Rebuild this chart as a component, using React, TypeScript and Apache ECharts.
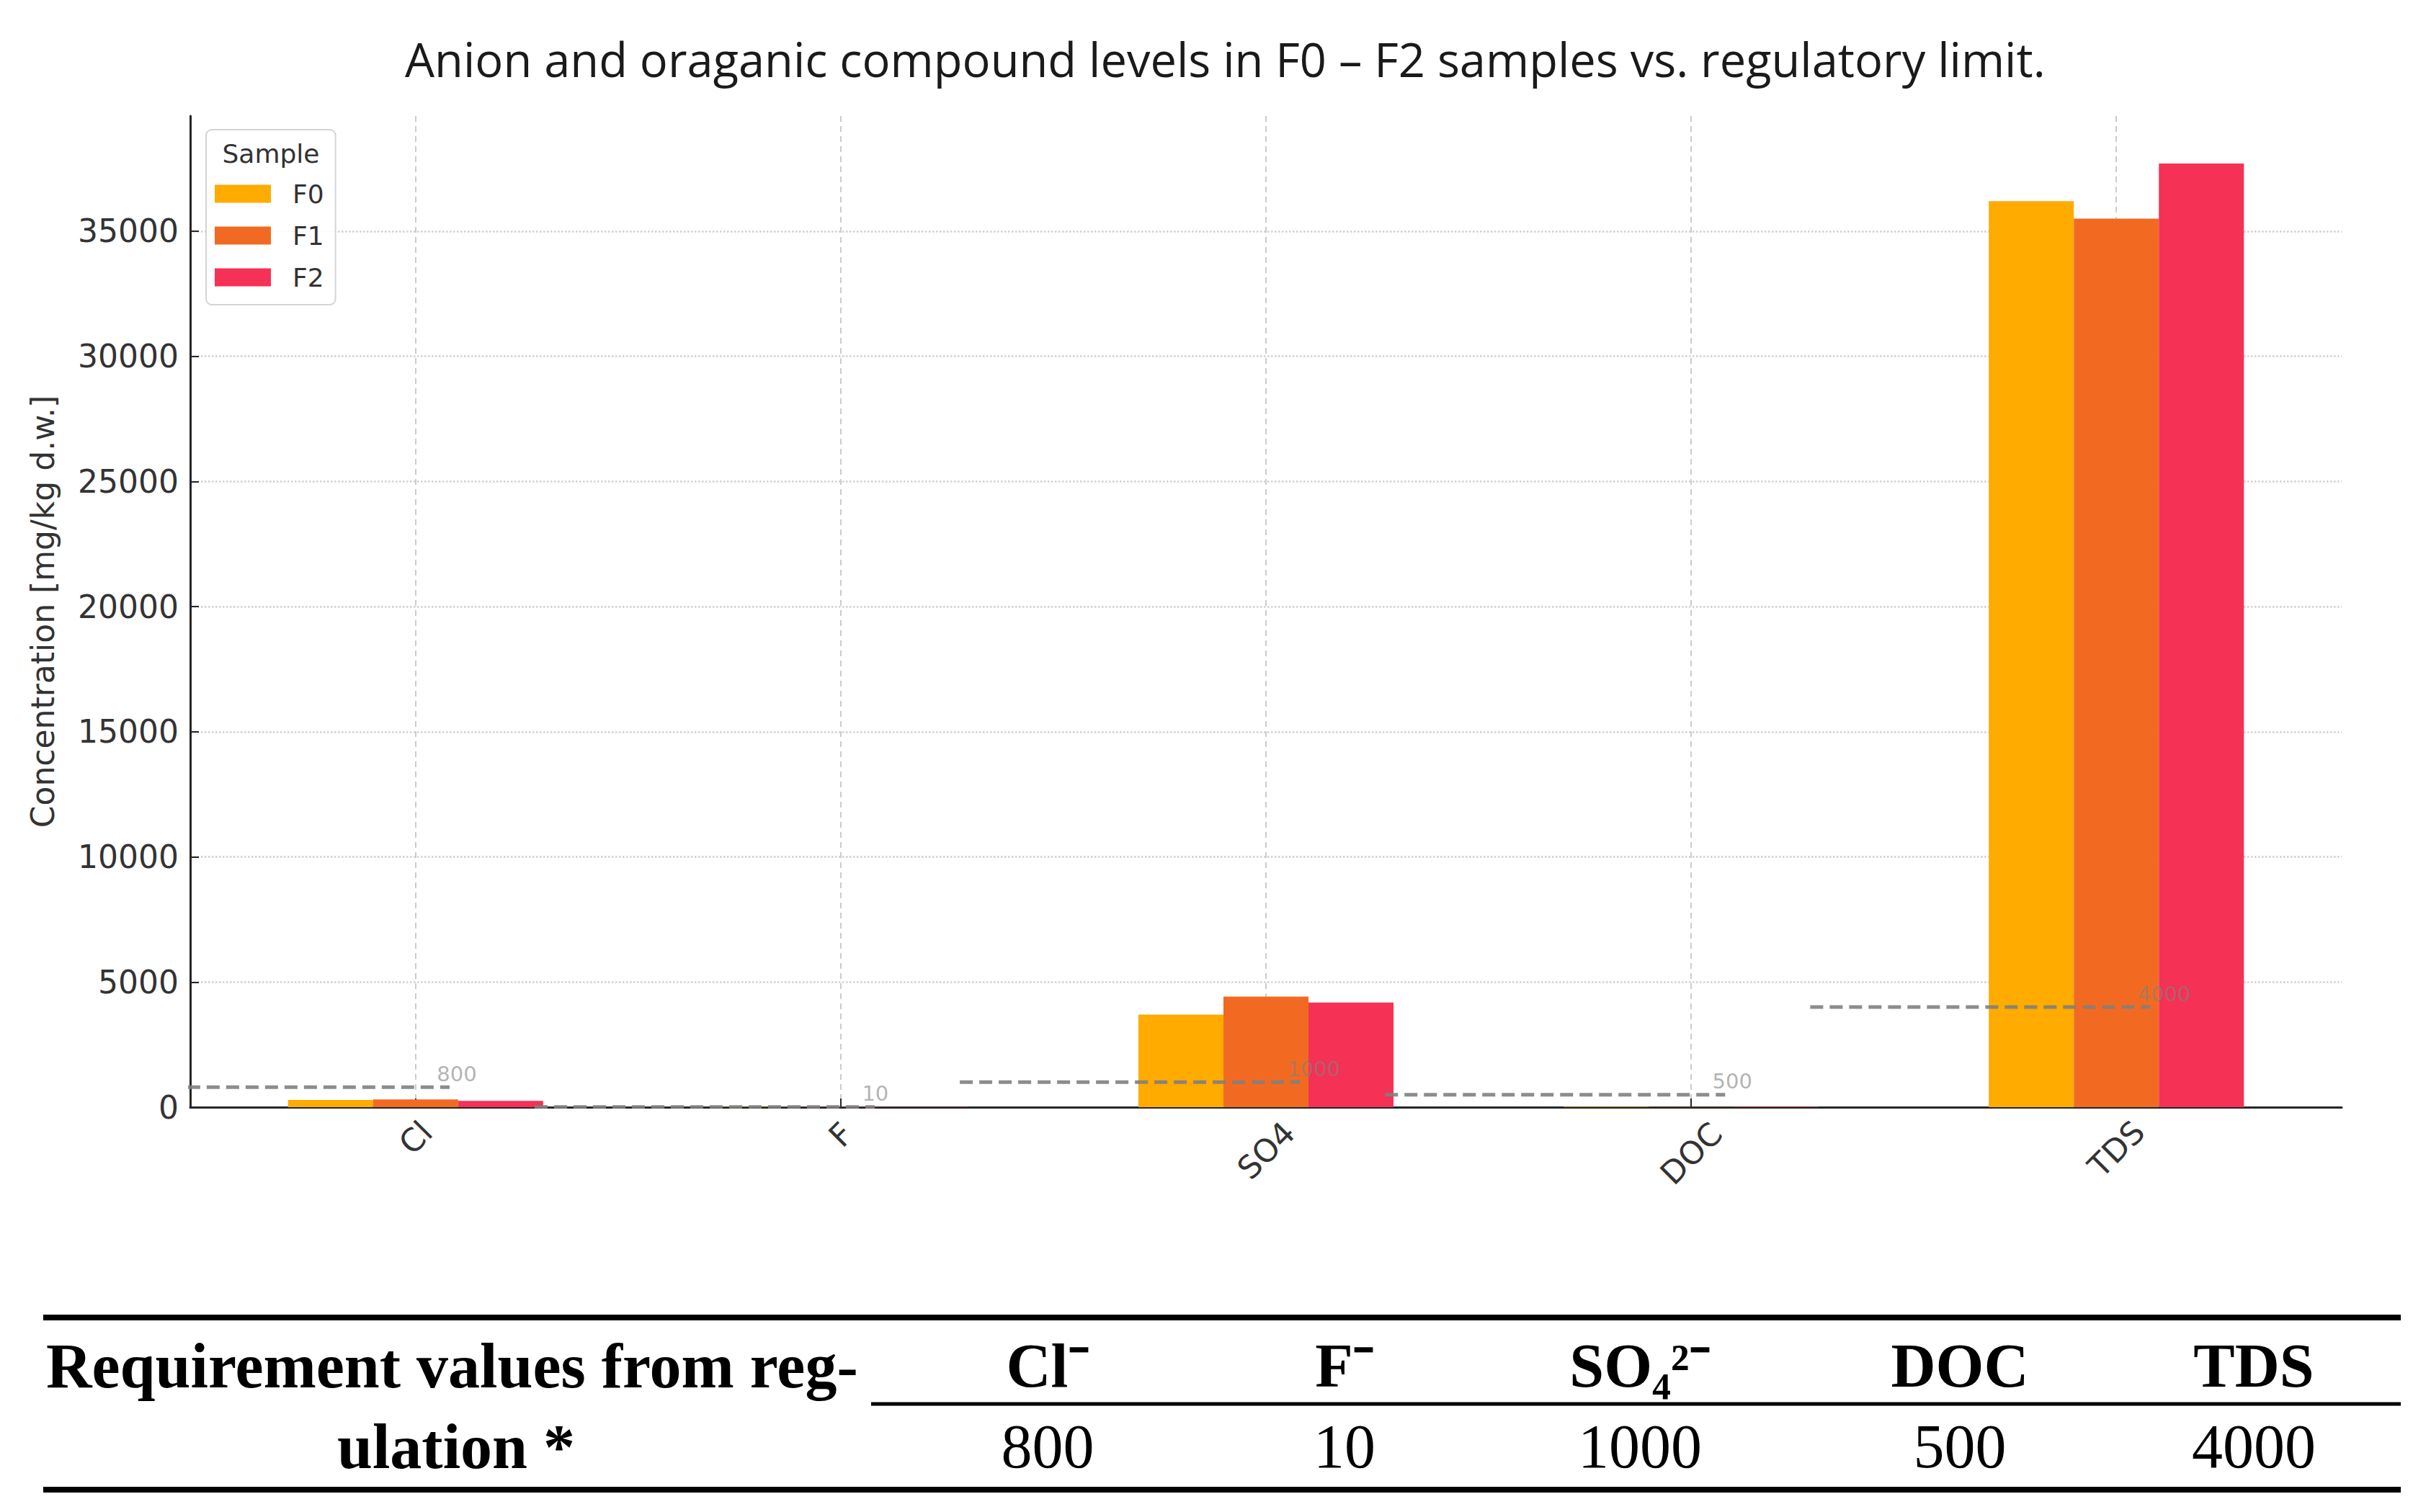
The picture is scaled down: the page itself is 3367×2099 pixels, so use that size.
import React, { useEffect, useRef } from "react";
import * as echarts from "echarts";

const categories = ["Cl", "F", "SO4", "DOC", "TDS"];
const sampleNames = ["F0", "F1", "F2"];
const f0Values = [290, 4.5, 3700, 12, 36200];
const f1Values = [310, 3.8, 4420, 9, 35500];
const f2Values = [250, 5.2, 4180, 15, 37700];
const limitValues = [800, 10, 1000, 500, 4000];
const yTickValues = [0, 5000, 10000, 15000, 20000, 25000, 30000, 35000];
const xTickValues = [0, 1, 2, 3, 4];
const tableHeaders = ["Cl⁻", "F⁻", "SO₄²⁻", "DOC", "TDS"];
const tableRowLabel = ["Requirement values from reg-", "ulation *"];
const barColors = ["#FFAB00", "#F26A21", "#F53155"];

const SANS = "DejaVu Sans";
const SERIF = "Liberation Serif";
const labelPad = [6, 0, 31, 37, 28];
const tableColX = [1454, 1866, 2276, 2720, 3128];

export default function App() {
  const ref = useRef<HTMLDivElement>(null);
  useEffect(() => {
    document.body.style.margin = "0";
    const chart = echarts.init(ref.current!, undefined, { renderer: "svg" });
    const seriesValues = [f0Values, f1Values, f2Values];
    const rich: Record<string, any> = {};
    categories.forEach((c, i) => {
      rich["c" + i] = {
        fontFamily: SANS,
        fontSize: 44,
        color: "#333333",
        padding: [labelPad[i], labelPad[i], 0, 0],
      };
    });
    const barSeries = seriesValues.map((vals, s) => ({
      type: "bar",
      name: sampleNames[s],
      data: vals.map((v, i) => [i, v]),
      barWidth: "20%",
      barGap: "0%",
      itemStyle: { color: barColors[s] },
      z: 2,
    }));
    const limitSeries = limitValues.map((v, i) => ({
      type: "line",
      name: "limit-" + categories[i],
      data: [
        [i - 0.72, v],
        [i + 0.08, v],
      ],
      symbol: "none",
      clip: true,
      silent: true,
      lineStyle: { color: "#7f7f7f", width: 5, type: [18, 9], opacity: 0.9 },
      z: 4,
    }));
    const labelSeries = {
      type: "scatter",
      name: "limit-labels",
      symbolSize: 0,
      silent: true,
      z: 5,
      data: limitValues.map((v, i) => ({
        value: [i + 0.05, v],
        label: { formatter: String(v) },
      })),
      label: {
        show: true,
        position: [0, -4],
        align: "left",
        verticalAlign: "bottom",
        fontFamily: SANS,
        fontSize: 29,
        color: "rgba(128,128,128,0.75)",
      },
    };

    const graphic: any[] = [
      {
        type: "text",
        x: 376,
        y: 213,
        z: 100,
        style: {
          text: "Sample",
          fontFamily: SANS,
          fontSize: 36,
          fill: "#333333",
          align: "center",
          verticalAlign: "middle",
        },
      },
      { type: "line", shape: { x1: 60, y1: 1829, x2: 3332, y2: 1829 }, style: { stroke: "#000", lineWidth: 8 } },
      { type: "line", shape: { x1: 1209, y1: 1949, x2: 3332, y2: 1949 }, style: { stroke: "#000", lineWidth: 5 } },
      { type: "line", shape: { x1: 60, y1: 2068, x2: 3332, y2: 2068 }, style: { stroke: "#000", lineWidth: 8 } },
      {
        type: "text",
        x: 64,
        y: 1896,
        style: { text: tableRowLabel[0], fontFamily: SERIF, fontSize: 88, fontWeight: "bold", fill: "#000", align: "left", verticalAlign: "middle" },
      },
      {
        type: "text",
        x: 633,
        y: 2008,
        style: { text: tableRowLabel[1], fontFamily: SERIF, fontSize: 88, fontWeight: "bold", fill: "#000", align: "center", verticalAlign: "middle" },
      },
      ...tableHeaders.map((h, i) => ({
        type: "text",
        x: tableColX[i],
        y: 1896,
        style: { text: h, fontFamily: SERIF, fontSize: 86, fontWeight: "bold", fill: "#000", align: "center", verticalAlign: "middle" },
      })),
      ...limitValues.map((v, i) => ({
        type: "text",
        x: tableColX[i],
        y: 2008,
        style: { text: String(v), fontFamily: SERIF, fontSize: 86, fill: "#000", align: "center", verticalAlign: "middle" },
      })),
    ];

    chart.setOption({
      animation: false,
      backgroundColor: "#ffffff",
      title: {
        text: "Anion and oraganic compound levels in F0 – F2 samples vs. regulatory limit.",
        left: 562,
        top: 43,
        padding: 0,
        textStyle: { fontFamily: "Open Sans", fontSize: 65, fontWeight: "normal", color: "#1a1a1a", lineHeight: 78 },
      },
      legend: {
        data: sampleNames,
        orient: "vertical",
        left: 286,
        top: 180,
        padding: [69, 16, 18, 12],
        itemWidth: 78,
        itemHeight: 25,
        itemGap: 18,
        icon: "rect",
        borderColor: "#d4d4d4",
        borderWidth: 2,
        borderRadius: 8,
        backgroundColor: "rgba(255,255,255,0.85)",
        textStyle: { fontFamily: SANS, fontSize: 36, color: "#333333", lineHeight: 40, padding: [0, 0, 0, 25] },
      },
      grid: { left: 264, right: 117, top: 161, bottom: 562, containLabel: false },
      xAxis: {
        type: "value",
        min: -0.53,
        max: 4.53,
        axisLine: { show: true, onZero: false, lineStyle: { color: "#262626", width: 3 } },
        axisTick: { show: true, inside: true, length: 12, customValues: xTickValues, lineStyle: { color: "#262626", width: 2 } },
        axisLabel: {
          customValues: xTickValues,
          rotate: 45,
          align: "center",
          verticalAlign: "middle",
          margin: 38,
          fontFamily: SANS,
          fontSize: 44,
          color: "#333333",
          formatter: (v: number) => {
            const i = Math.round(v);
            return "{c" + i + "|" + categories[i] + "}";
          },
          rich,
        },
        splitLine: { show: true, lineStyle: { color: "#cccccc", width: 2, type: [8, 6] } },
      },
      yAxis: {
        type: "value",
        min: 0,
        max: 39600,
        name: "Concentration [mg/kg d.w.]",
        nameLocation: "middle",
        nameRotate: 90,
        nameGap: 183,
        nameTextStyle: { fontFamily: SANS, fontSize: 44, color: "#333333" },
        axisLine: { show: true, onZero: false, lineStyle: { color: "#262626", width: 3 } },
        axisTick: { show: true, inside: true, length: 12, customValues: yTickValues, lineStyle: { color: "#262626", width: 2 } },
        axisLabel: {
          customValues: yTickValues,
          formatter: (v: number) => String(v),
          margin: 16,
          fontFamily: SANS,
          fontSize: 44,
          color: "#333333",
        },
        splitLine: { show: true, lineStyle: { color: "#d0d0d0", width: 2.5, type: "dotted" } },
      },
      series: [...barSeries, ...limitSeries, labelSeries],
      graphic,
    });
    return () => chart.dispose();
  }, []);
  return <div ref={ref} style={{ width: 3367, height: 2099 }} />;
}
